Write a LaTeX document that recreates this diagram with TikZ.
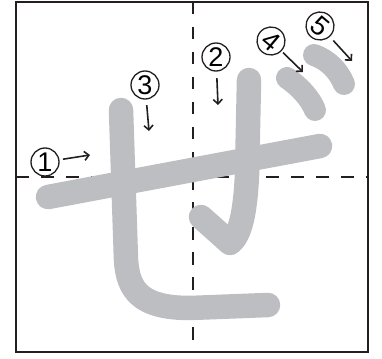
\documentclass[tikz,border=0pt]{standalone}
\usepackage{fontspec}
\setmainfont{Liberation Sans}
\usetikzlibrary{arrows.meta}
\definecolor{brushgrey}{HTML}{BDBEC1}
\definecolor{ink}{HTML}{231F20}

\begin{document}
\begin{tikzpicture}[
  x=1pt, y=-1pt,
  guide/.style={draw=ink, line width=2pt, dash pattern=on 12.5pt off 12.5pt},
  frame/.style={draw=ink, line width=2.2pt},
  brush/.style={draw=brushgrey, line width=24.5pt, line cap=round, line join=round},
  dot/.style={draw=brushgrey, line width=22pt, line cap=round},
  num/.style={circle, draw=ink, line width=1.3pt, minimum size=28pt,
    inner sep=0pt, font=\fontsize{27}{27}\selectfont},
  arrow/.style={-{Straight Barb[length=4.5pt,width=9pt]}, line width=1.6pt, draw=ink}
]
\useasboundingbox (0,0) rectangle (382,358);

% guide cross
\draw[guide] (192.5,2) -- (192.5,352);
\draw[guide] (16,177) -- (368,177);

% strokes of the kana
\draw[brush] (48,197) -- (320,146);
\draw[brush] (249,80) -- (247,175) .. controls (245,215) and (240,235) .. (230,243) -- (201,217);
\draw[brush] (121,110) -- (126,260) .. controls (128,290) and (140,308) .. (190,308) -- (268,305);
\draw[dot] (287,78) .. controls (300,87) and (310,98) .. (315,110);
\draw[dot] (314,55) .. controls (328,60) and (338,70) .. (344,84);

\draw[frame] (16,2) rectangle (368,352);

% stroke numbers
\node[num] (one) at (45,162) {1};
\node[num] (two) at (216,57) {2};
\node[num] (three) at (145,85) {3};
\node[num, rotate=-40] (four) at (271,41) {4};
\node[num, rotate=-40] (five) at (320,26) {5};

\coordinate (e1) at (90,155);
\coordinate (e2) at (218,105);
\coordinate (e3) at (149,131);
\coordinate (e4) at (303,72);
\coordinate (e5) at (352,61);

\draw[arrow, shorten <=3.5pt] (one) -- (e1);
\draw[arrow, shorten <=6.5pt] (two) -- (e2);
\draw[arrow, shorten <=5.5pt] (three) -- (e3);
\draw[arrow, shorten <=2pt] (four) -- (e4);
\draw[arrow, shorten <=5pt] (five) -- (e5);

\end{tikzpicture}
\end{document}
